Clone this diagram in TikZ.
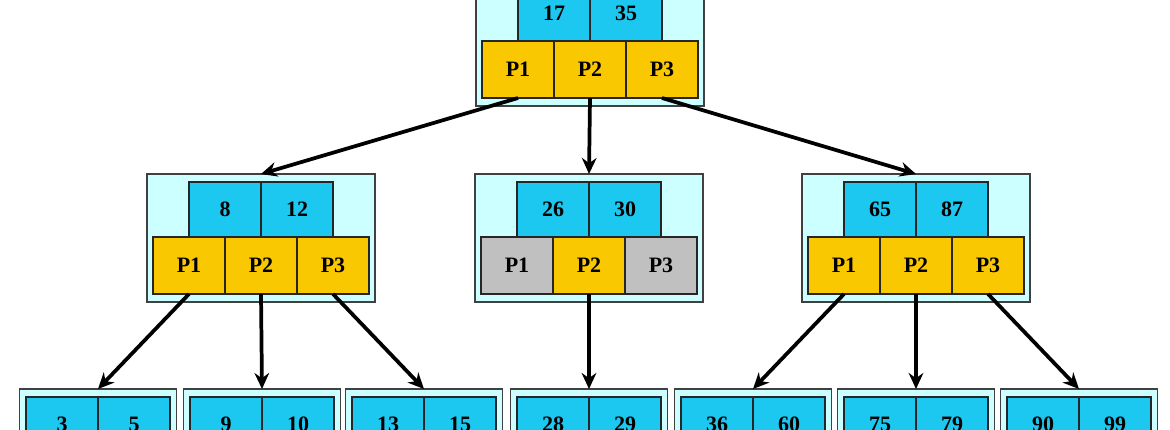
\documentclass[tikz,border=0pt]{standalone}
\usepackage{fontspec}
\setmainfont{Liberation Serif}
\usetikzlibrary{arrows.meta}
\definecolor{outerfill}{RGB}{204,255,255}
\definecolor{keyfill}{RGB}{28,200,240}
\definecolor{pyellow}{RGB}{250,200,0}
\definecolor{pgray}{RGB}{192,192,192}
\tikzset{
  outerbox/.style={draw=black!75, line width=0.9pt, fill=outerfill, inner sep=0pt, outer sep=0pt, minimum width=171pt, minimum height=96pt},
  leafbox/.style={draw=black!75, line width=0.9pt, fill=outerfill, inner sep=0pt, outer sep=0pt, minimum width=117.75pt, minimum height=80pt},
  keycell/.style={draw=black!85, line width=0.9pt, fill=keyfill, inner sep=0pt, outer sep=0pt, minimum width=54pt, minimum height=41.25pt, font=\fontsize{16.5}{18}\selectfont\bfseries},
  pcell/.style={draw=black!85, line width=0.9pt, inner sep=0pt, outer sep=0pt, minimum width=54pt, minimum height=42.75pt, font=\fontsize{16.5}{18}\selectfont\bfseries},
  arr/.style={line width=2.8pt, black, -{Stealth[length=12pt,width=11pt]}},
}
\newcommand\bnode[8]{%
  \node[outerbox, anchor=north] (#1) at (#2,#3) {};
  \node[keycell, anchor=north east] (#1k1) at (#2,#3+8) {#4};
  \node[keycell, anchor=north west] (#1k2) at (#2,#3+8) {#5};
  \node[pcell, fill=#6, anchor=north east] (#1p1) at (#2-36,#3+63) {P1};
  \node[pcell, fill=#7, anchor=north] (#1p2) at (#2,#3+63) {P2};
  \node[pcell, fill=#8, anchor=north west] (#1p3) at (#2+36,#3+63) {P3};
}
\newcommand\lnode[4]{%
  \node[leafbox, anchor=north] (#1) at (#2,389) {};
  \node[keycell, anchor=north east] (#1k1) at (#2,397) {#3};
  \node[keycell, anchor=north west] (#1k2) at (#2,397) {#4};
}
\begin{document}
\begin{tikzpicture}[x=0.75pt, y=-0.75pt]
\clip (0,0) rectangle (1170,429);
\fill[white] (0,0) rectangle (1170,429);
\bnode{root}{590}{-22}{17}{35}{pyellow}{pyellow}{pyellow}
\bnode{ml}{261}{174}{8}{12}{pyellow}{pyellow}{pyellow}
\bnode{mc}{589}{174}{26}{30}{pgray}{pyellow}{pgray}
\bnode{mr}{916}{174}{65}{87}{pyellow}{pyellow}{pyellow}
\lnode{la}{98}{3}{5}
\lnode{lb}{262}{9}{10}
\lnode{lc}{424}{13}{15}
\lnode{ld}{589}{28}{29}
\lnode{le}{753}{36}{60}
\lnode{lf}{916}{75}{79}
\lnode{lg}{1079}{90}{99}
\draw[arr] (rootp1.south) -- (ml.north);
\draw[arr] (rootp2.south) -- (mc.north);
\draw[arr] (rootp3.south) -- (mr.north);
\draw[arr] (mlp1.south) -- (la.north);
\draw[arr] (mlp2.south) -- (lb.north);
\draw[arr] (mlp3.south) -- (lc.north);
\draw[arr] (mcp2.south) -- (ld.north);
\draw[arr] (mrp1.south) -- (le.north);
\draw[arr] (mrp2.south) -- (lf.north);
\draw[arr] (mrp3.south) -- (lg.north);
\end{tikzpicture}
\end{document}
